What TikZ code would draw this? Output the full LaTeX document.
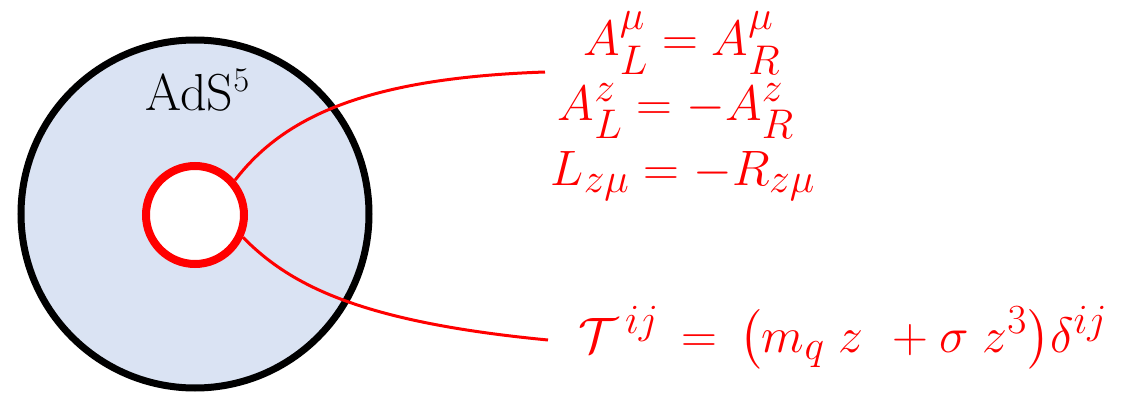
\documentclass[tikz,border=0pt]{standalone}
\usepackage{amsmath}
\definecolor{diskfill}{RGB}{218,227,243}
\definecolor{eqred}{RGB}{255,0,0}
\begin{document}
\begin{tikzpicture}[x=0.5pt,y=-0.5pt,
  disk/.style={circle,draw=black,line width=3.5pt,fill=diskfill,minimum size=174pt,inner sep=0pt},
  hole/.style={circle,draw=eqred,line width=4pt,fill=white,minimum size=49pt,inner sep=0pt},
  eq/.style={text=eqred,font=\fontsize{29}{34}\selectfont,anchor=base,inner sep=0pt},
  link/.style={draw=eqred,line width=1.5pt}]
\useasboundingbox (0,0) rectangle (1126,396);
\node[disk] (ads) at (195,214) {};
\node[hole] (brane) at (195,215) {};
\node[anchor=base,font=\fontsize{26}{30}\selectfont] (lbl) at (198,110) {AdS$^5$};
\node[eq] (e1) at (682,55) {$A_L^{\mu} = A_R^{\mu}$};
\node[eq] (e2) at (676,120) {$A_L^{z} = -A_R^{z}$};
\node[eq] (e3) at (683,185) {$L_{z\mu} = -R_{z\mu}$};
\node[eq,anchor=base west] (e4) at (578,352) {$\mathcal{T}^{\,ij} \,=\, \bigl(m_q\; z\ + \sigma\; z^3\bigr)\delta^{ij}$};
\coordinate (p1) at (545,72);
\coordinate (p2) at (548,340);
\draw[link] (brane.41) .. controls (285,115) and (370,78) .. (p1);
\draw[link] (brane.-25) .. controls (290,285) and (360,322) .. (p2);
\end{tikzpicture}
\end{document}
